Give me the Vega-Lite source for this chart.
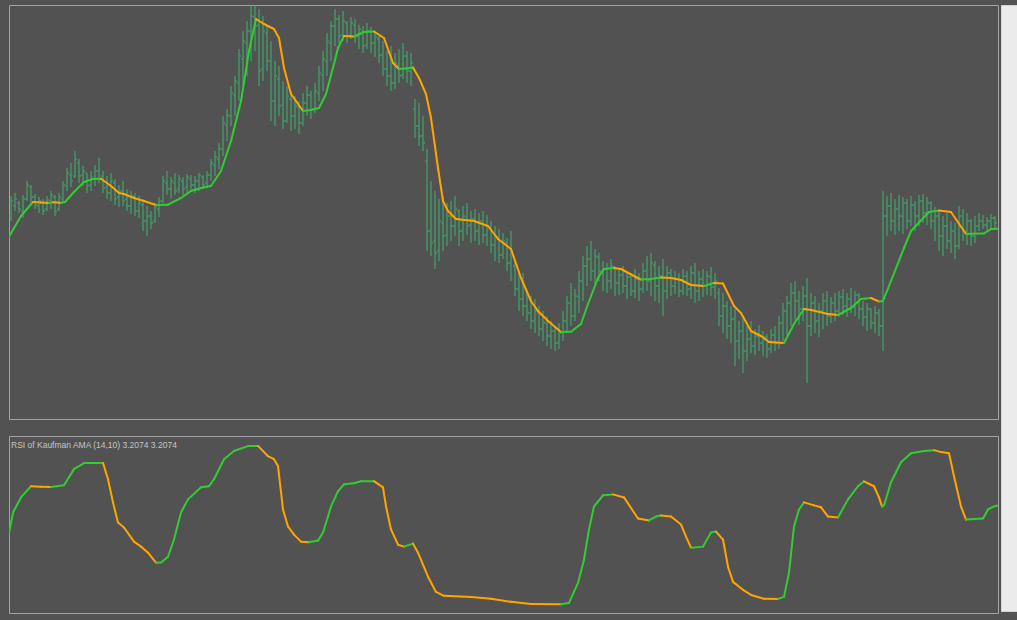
{
  "$schema": "https://vega.github.io/schema/vega-lite/v6.json",
  "background": "#525252",
  "padding": {"left": 8, "top": 4, "right": 0, "bottom": 7},
  "spacing": 1,
  "config": {"view": {"stroke": "#a4a4a4", "strokeWidth": 1}},
  "datasets": {
    "bars": [
      {"t":0.5,"o":205,"h":225,"l":200,"c":220},{"t":1.5,"o":215,"h":228,"l":210,"c":222},{"t":2.5,"o":218,"h":220,"l":208,"c":212},{"t":3.5,"o":210,"h":226,"l":203,"c":222},{"t":4.5,"o":222,"h":240,"l":220,"c":236},
      {"t":5.5,"o":234,"h":236,"l":217,"c":224},{"t":6.5,"o":224,"h":227,"l":212,"c":216},{"t":7.5,"o":215,"h":224,"l":208,"c":220},{"t":8.5,"o":218,"h":222,"l":206,"c":210},{"t":9.5,"o":212,"h":225,"l":210,"c":221},
      {"t":10.5,"o":220,"h":230,"l":212,"c":226},{"t":11.5,"o":224,"h":226,"l":205,"c":210},{"t":12.5,"o":212,"h":228,"l":210,"c":224},{"t":13.5,"o":222,"h":240,"l":218,"c":236},{"t":14.5,"o":235,"h":253,"l":230,"c":248},
      {"t":15.5,"o":246,"h":258,"l":234,"c":240},{"t":16.5,"o":245,"h":270,"l":243,"c":262},{"t":17.5,"o":258,"h":262,"l":238,"c":245},{"t":18.5,"o":246,"h":255,"l":235,"c":250},{"t":19.5,"o":248,"h":248,"l":228,"c":235},
      {"t":20.5,"o":236,"h":250,"l":230,"c":244},{"t":21.5,"o":242,"h":256,"l":235,"c":250},{"t":22.5,"o":250,"h":263,"l":238,"c":242},{"t":23.5,"o":245,"h":250,"l":228,"c":233},{"t":24.5,"o":234,"h":245,"l":222,"c":228},
      {"t":25.5,"o":228,"h":248,"l":220,"c":240},{"t":26.5,"o":238,"h":242,"l":216,"c":222},{"t":27.5,"o":224,"h":236,"l":214,"c":230},{"t":28.5,"o":230,"h":240,"l":215,"c":220},{"t":29.5,"o":222,"h":232,"l":210,"c":215},
      {"t":30.5,"o":215,"h":230,"l":207,"c":225},{"t":31.5,"o":224,"h":228,"l":205,"c":210},{"t":32.5,"o":210,"h":225,"l":203,"c":218},{"t":33.5,"o":216,"h":222,"l":190,"c":200},{"t":34.5,"o":200,"h":215,"l":185,"c":205},
      {"t":35.5,"o":205,"h":210,"l":192,"c":198},{"t":36.5,"o":200,"h":218,"l":198,"c":214},{"t":37.5,"o":212,"h":224,"l":204,"c":220},{"t":38.5,"o":220,"h":245,"l":218,"c":240},{"t":39.5,"o":238,"h":250,"l":226,"c":232},
      {"t":40.5,"o":232,"h":244,"l":222,"c":240},{"t":41.5,"o":238,"h":248,"l":226,"c":230},{"t":42.5,"o":232,"h":246,"l":228,"c":242},{"t":43.5,"o":240,"h":244,"l":226,"c":232},{"t":44.5,"o":234,"h":247,"l":228,"c":244},
      {"t":45.5,"o":242,"h":246,"l":229,"c":236},{"t":46.5,"o":236,"h":245,"l":228,"c":240},{"t":47.5,"o":240,"h":248,"l":230,"c":246},{"t":48.5,"o":244,"h":246,"l":232,"c":236},{"t":49.5,"o":238,"h":250,"l":233,"c":246},
      {"t":50.5,"o":246,"h":262,"l":240,"c":258},{"t":51.5,"o":256,"h":270,"l":245,"c":264},{"t":52.5,"o":262,"h":278,"l":252,"c":272},{"t":53.5,"o":272,"h":305,"l":265,"c":298},{"t":54.5,"o":296,"h":312,"l":280,"c":306},
      {"t":55.5,"o":305,"h":335,"l":295,"c":328},{"t":56.5,"o":326,"h":345,"l":305,"c":340},{"t":57.5,"o":338,"h":372,"l":320,"c":365},{"t":58.5,"o":362,"h":390,"l":335,"c":380},{"t":59.5,"o":378,"h":400,"l":345,"c":390},
      {"t":60.5,"o":390,"h":416,"l":360,"c":405},{"t":61.5,"o":404,"h":418,"l":370,"c":395},{"t":62.5,"o":396,"h":412,"l":335,"c":350},{"t":63.5,"o":352,"h":405,"l":340,"c":390},{"t":64.5,"o":388,"h":395,"l":350,"c":360},
      {"t":65.5,"o":360,"h":380,"l":300,"c":320},{"t":66.5,"o":320,"h":360,"l":295,"c":345},{"t":67.5,"o":342,"h":355,"l":305,"c":315},{"t":68.5,"o":316,"h":340,"l":292,"c":300},{"t":69.5,"o":300,"h":335,"l":298,"c":325},
      {"t":70.5,"o":322,"h":330,"l":290,"c":305},{"t":71.5,"o":305,"h":325,"l":292,"c":315},{"t":72.5,"o":314,"h":320,"l":287,"c":298},{"t":73.5,"o":298,"h":328,"l":295,"c":318},{"t":74.5,"o":318,"h":335,"l":305,"c":326},
      {"t":75.5,"o":326,"h":330,"l":302,"c":312},{"t":76.5,"o":312,"h":338,"l":308,"c":330},{"t":77.5,"o":328,"h":355,"l":320,"c":348},{"t":78.5,"o":346,"h":370,"l":330,"c":362},{"t":79.5,"o":360,"h":388,"l":345,"c":380},
      {"t":80.5,"o":378,"h":400,"l":360,"c":395},{"t":81.5,"o":395,"h":412,"l":375,"c":402},{"t":82.5,"o":402,"h":406,"l":378,"c":385},{"t":83.5,"o":386,"h":410,"l":380,"c":400},{"t":84.5,"o":398,"h":400,"l":378,"c":385},
      {"t":85.5,"o":386,"h":404,"l":382,"c":398},{"t":86.5,"o":396,"h":402,"l":378,"c":384},{"t":87.5,"o":385,"h":396,"l":372,"c":392},{"t":88.5,"o":390,"h":395,"l":368,"c":375},{"t":89.5,"o":376,"h":398,"l":372,"c":390},
      {"t":90.5,"o":390,"h":394,"l":368,"c":378},{"t":91.5,"o":378,"h":390,"l":364,"c":384},{"t":92.5,"o":382,"h":385,"l":358,"c":366},{"t":93.5,"o":366,"h":380,"l":345,"c":352},{"t":94.5,"o":352,"h":370,"l":335,"c":345},
      {"t":95.5,"o":345,"h":375,"l":330,"c":338},{"t":96.5,"o":338,"h":368,"l":332,"c":358},{"t":97.5,"o":356,"h":372,"l":338,"c":345},{"t":98.5,"o":346,"h":378,"l":342,"c":365},{"t":99.5,"o":365,"h":370,"l":338,"c":350},
      {"t":100.5,"o":350,"h":368,"l":335,"c":358},{"t":101.5,"o":312,"h":322,"l":283,"c":295},{"t":102.5,"o":295,"h":318,"l":275,"c":285},{"t":103.5,"o":285,"h":305,"l":270,"c":278},{"t":104.5,"o":260,"h":272,"l":170,"c":190},
      {"t":105.5,"o":190,"h":240,"l":165,"c":178},{"t":106.5,"o":180,"h":230,"l":152,"c":168},{"t":107.5,"o":170,"h":222,"l":160,"c":200},{"t":108.5,"o":198,"h":225,"l":170,"c":185},{"t":109.5,"o":186,"h":218,"l":175,"c":205},
      {"t":110.5,"o":205,"h":220,"l":180,"c":195},{"t":111.5,"o":195,"h":225,"l":185,"c":212},{"t":112.5,"o":210,"h":212,"l":175,"c":190},{"t":113.5,"o":190,"h":215,"l":180,"c":205},{"t":114.5,"o":204,"h":218,"l":186,"c":195},
      {"t":115.5,"o":196,"h":210,"l":178,"c":202},{"t":116.5,"o":202,"h":212,"l":180,"c":190},{"t":117.5,"o":190,"h":208,"l":176,"c":200},{"t":118.5,"o":200,"h":210,"l":178,"c":186},{"t":119.5,"o":186,"h":206,"l":175,"c":195},
      {"t":120.5,"o":194,"h":200,"l":168,"c":176},{"t":121.5,"o":176,"h":195,"l":160,"c":185},{"t":122.5,"o":184,"h":192,"l":158,"c":166},{"t":123.5,"o":166,"h":188,"l":162,"c":180},{"t":124.5,"o":178,"h":183,"l":150,"c":158},
      {"t":125.5,"o":158,"h":190,"l":140,"c":170},{"t":126.5,"o":155,"h":160,"l":125,"c":132},{"t":127.5,"o":132,"h":150,"l":110,"c":122},{"t":128.5,"o":122,"h":148,"l":105,"c":115},{"t":129.5,"o":115,"h":130,"l":100,"c":108},
      {"t":130.5,"o":108,"h":125,"l":92,"c":100},{"t":131.5,"o":100,"h":122,"l":88,"c":110},{"t":132.5,"o":108,"h":115,"l":85,"c":92},{"t":133.5,"o":92,"h":110,"l":80,"c":98},{"t":134.5,"o":98,"h":105,"l":75,"c":85},
      {"t":135.5,"o":85,"h":100,"l":72,"c":90},{"t":136.5,"o":90,"h":95,"l":70,"c":78},{"t":137.5,"o":78,"h":98,"l":72,"c":88},{"t":138.5,"o":88,"h":110,"l":80,"c":100},{"t":139.5,"o":100,"h":125,"l":88,"c":118},
      {"t":140.5,"o":118,"h":138,"l":95,"c":105},{"t":141.5,"o":105,"h":132,"l":100,"c":125},{"t":142.5,"o":124,"h":150,"l":108,"c":140},{"t":143.5,"o":140,"h":165,"l":120,"c":155},{"t":144.5,"o":155,"h":175,"l":135,"c":162},
      {"t":145.5,"o":162,"h":180,"l":140,"c":150},{"t":146.5,"o":150,"h":172,"l":135,"c":165},{"t":147.5,"o":164,"h":168,"l":140,"c":150},{"t":148.5,"o":150,"h":160,"l":130,"c":152},{"t":149.5,"o":152,"h":158,"l":128,"c":140},
      {"t":150.5,"o":140,"h":162,"l":132,"c":155},{"t":151.5,"o":154,"h":155,"l":125,"c":138},{"t":152.5,"o":138,"h":152,"l":126,"c":146},{"t":153.5,"o":146,"h":155,"l":128,"c":135},{"t":154.5,"o":135,"h":150,"l":122,"c":144},
      {"t":155.5,"o":144,"h":148,"l":125,"c":130},{"t":156.5,"o":130,"h":152,"l":123,"c":142},{"t":157.5,"o":142,"h":148,"l":120,"c":132},{"t":158.5,"o":132,"h":158,"l":128,"c":150},{"t":159.5,"o":150,"h":165,"l":130,"c":140},
      {"t":160.5,"o":140,"h":168,"l":125,"c":158},{"t":161.5,"o":156,"h":160,"l":120,"c":135},{"t":162.5,"o":135,"h":155,"l":118,"c":145},{"t":163.5,"o":145,"h":162,"l":105,"c":130},{"t":164.5,"o":130,"h":155,"l":122,"c":148},
      {"t":165.5,"o":148,"h":152,"l":125,"c":135},{"t":166.5,"o":135,"h":150,"l":127,"c":142},{"t":167.5,"o":142,"h":148,"l":124,"c":130},{"t":168.5,"o":130,"h":152,"l":126,"c":145},{"t":169.5,"o":145,"h":150,"l":125,"c":132},
      {"t":170.5,"o":132,"h":155,"l":122,"c":148},{"t":171.5,"o":148,"h":158,"l":118,"c":130},{"t":172.5,"o":130,"h":150,"l":120,"c":142},{"t":173.5,"o":142,"h":152,"l":124,"c":135},{"t":174.5,"o":135,"h":150,"l":126,"c":145},
      {"t":175.5,"o":144,"h":154,"l":125,"c":134},{"t":176.5,"o":134,"h":148,"l":122,"c":140},{"t":177.5,"o":128,"h":133,"l":95,"c":105},{"t":178.5,"o":105,"h":128,"l":88,"c":115},{"t":179.5,"o":115,"h":120,"l":82,"c":95},
      {"t":180.5,"o":95,"h":115,"l":78,"c":102},{"t":181.5,"o":102,"h":112,"l":55,"c":80},{"t":182.5,"o":80,"h":100,"l":62,"c":90},{"t":183.5,"o":90,"h":105,"l":48,"c":70},{"t":184.5,"o":70,"h":95,"l":60,"c":82},
      {"t":185.5,"o":82,"h":100,"l":68,"c":75},{"t":186.5,"o":75,"h":92,"l":66,"c":85},{"t":187.5,"o":85,"h":96,"l":70,"c":78},{"t":188.5,"o":78,"h":90,"l":65,"c":84},{"t":189.5,"o":84,"h":87,"l":63,"c":72},
      {"t":190.5,"o":72,"h":92,"l":68,"c":86},{"t":191.5,"o":86,"h":95,"l":70,"c":78},{"t":192.5,"o":78,"h":105,"l":72,"c":98},{"t":193.5,"o":98,"h":118,"l":80,"c":110},{"t":194.5,"o":110,"h":125,"l":85,"c":118},
      {"t":195.5,"o":118,"h":138,"l":95,"c":128},{"t":196.5,"o":128,"h":140,"l":100,"c":120},{"t":197.5,"o":120,"h":130,"l":96,"c":112},{"t":198.5,"o":112,"h":135,"l":100,"c":125},{"t":199.5,"o":125,"h":143,"l":38,"c":95},
      {"t":200.5,"o":95,"h":128,"l":85,"c":118},{"t":201.5,"o":118,"h":125,"l":88,"c":100},{"t":202.5,"o":100,"h":118,"l":84,"c":110},{"t":203.5,"o":110,"h":128,"l":92,"c":120},{"t":204.5,"o":120,"h":130,"l":95,"c":105},
      {"t":205.5,"o":105,"h":124,"l":98,"c":118},{"t":206.5,"o":118,"h":128,"l":100,"c":110},{"t":207.5,"o":110,"h":130,"l":104,"c":124},{"t":208.5,"o":124,"h":132,"l":106,"c":115},{"t":209.5,"o":115,"h":128,"l":104,"c":122},
      {"t":210.5,"o":122,"h":133,"l":108,"c":114},{"t":211.5,"o":114,"h":130,"l":105,"c":126},{"t":212.5,"o":126,"h":128,"l":102,"c":112},{"t":213.5,"o":112,"h":120,"l":95,"c":104},{"t":214.5,"o":104,"h":118,"l":90,"c":112},
      {"t":215.5,"o":112,"h":113,"l":92,"c":98},{"t":216.5,"o":98,"h":115,"l":88,"c":108},{"t":217.5,"o":108,"h":112,"l":85,"c":95},{"t":218.5,"o":95,"h":230,"l":70,"c":205},{"t":219.5,"o":205,"h":225,"l":185,"c":215},
      {"t":220.5,"o":215,"h":228,"l":190,"c":200},{"t":221.5,"o":200,"h":222,"l":186,"c":212},{"t":222.5,"o":212,"h":226,"l":190,"c":205},{"t":223.5,"o":205,"h":224,"l":187,"c":218},{"t":224.5,"o":218,"h":222,"l":192,"c":200},
      {"t":225.5,"o":200,"h":225,"l":195,"c":216},{"t":226.5,"o":216,"h":220,"l":190,"c":205},{"t":227.5,"o":205,"h":226,"l":195,"c":220},{"t":228.5,"o":220,"h":227,"l":198,"c":208},{"t":229.5,"o":208,"h":224,"l":196,"c":218},
      {"t":230.5,"o":218,"h":220,"l":192,"c":200},{"t":231.5,"o":200,"h":214,"l":180,"c":205},{"t":232.5,"o":205,"h":210,"l":170,"c":185},{"t":233.5,"o":185,"h":205,"l":165,"c":195},{"t":234.5,"o":195,"h":208,"l":172,"c":180},
      {"t":235.5,"o":180,"h":200,"l":168,"c":190},{"t":236.5,"o":190,"h":198,"l":162,"c":175},{"t":237.5,"o":175,"h":215,"l":172,"c":205},{"t":238.5,"o":205,"h":212,"l":180,"c":190},{"t":239.5,"o":190,"h":208,"l":176,"c":200},
      {"t":240.5,"o":200,"h":202,"l":175,"c":185},{"t":241.5,"o":185,"h":205,"l":178,"c":195},{"t":242.5,"o":195,"h":208,"l":190,"c":200},{"t":243.5,"o":200,"h":206,"l":192,"c":196},{"t":244.5,"o":196,"h":204,"l":190,"c":200},
      {"t":245.5,"o":200,"h":207,"l":193,"c":203},{"t":246.5,"o":203,"h":205,"l":192,"c":198}
    ],
    "ama": [
      {"t":0,"a":184},{"t":1.25,"a":193},{"t":3,"a":205},{"t":6,"a":219},{"t":8,"a":218.5},{"t":10,"a":218},{"t":11,"a":218.7},{"t":13,"a":218.2},{"t":14,"a":219},{"t":16.25,"a":229},
      {"t":18.75,"a":239},{"t":21,"a":242},{"t":23,"a":242.3},{"t":25.5,"a":235},{"t":27.5,"a":228},{"t":28.75,"a":227},{"t":31.25,"a":223},{"t":33.75,"a":220},{"t":36.75,"a":216},{"t":39.75,"a":216.3},
      {"t":43,"a":223},{"t":45.5,"a":230},{"t":48,"a":233},{"t":50.5,"a":235},{"t":53,"a":250},{"t":55.5,"a":280},{"t":58,"a":320},{"t":60,"a":370},{"t":61.75,"a":402},{"t":63.75,"a":397},
      {"t":66.25,"a":392},{"t":67.5,"a":383},{"t":68.75,"a":353},{"t":70.5,"a":327},{"t":73.5,"a":310},{"t":75.5,"a":311},{"t":77.5,"a":313},{"t":79.25,"a":327},{"t":81.25,"a":357},{"t":82.25,"a":373},
      {"t":83.75,"a":385},{"t":86.25,"a":384.5},{"t":88.75,"a":389},{"t":91.25,"a":389.5},{"t":93.75,"a":383},{"t":96,"a":358},{"t":97.5,"a":352},{"t":99.25,"a":352.5},{"t":101,"a":353.5},{"t":102.5,"a":343},
      {"t":104.25,"a":327},{"t":105.5,"a":303},{"t":107.25,"a":253},{"t":108.5,"a":220},{"t":109.75,"a":210},{"t":111.75,"a":202},{"t":116.25,"a":200},{"t":119.75,"a":195},{"t":122.25,"a":182},{"t":125.5,"a":172},
      {"t":128,"a":143},{"t":130.5,"a":120},{"t":132.25,"a":110},{"t":134.75,"a":100},{"t":138,"a":89},{"t":140.5,"a":89.3},{"t":143,"a":97},{"t":144.75,"a":117},{"t":147.25,"a":143},{"t":148.75,"a":152},
      {"t":151.25,"a":153},{"t":153,"a":152},{"t":156.25,"a":145},{"t":158,"a":141.5},{"t":160.5,"a":142},{"t":163,"a":143.5},{"t":165.5,"a":143},{"t":168,"a":141},{"t":170.5,"a":136},{"t":173.75,"a":135},
      {"t":176.25,"a":138},{"t":178.5,"a":137.5},{"t":181.25,"a":115},{"t":183,"a":108},{"t":185.5,"a":90},{"t":188,"a":85},{"t":190,"a":79},{"t":193.75,"a":78},{"t":196.25,"a":97},{"t":198.75,"a":112},
      {"t":200.5,"a":111},{"t":204.75,"a":107},{"t":207.25,"a":106},{"t":210.5,"a":113},{"t":213,"a":122},{"t":215.5,"a":123},{"t":217.5,"a":119.5},{"t":218.5,"a":120},{"t":220.5,"a":140},{"t":223.75,"a":173},
      {"t":225.5,"a":190},{"t":230,"a":209},{"t":232.5,"a":210.5},{"t":235.5,"a":209},{"t":239.25,"a":187},{"t":240.5,"a":187.2},{"t":243.75,"a":187.5},{"t":245.5,"a":192},{"t":247.25,"a":192.3}
    ],
    "rsi": [
      {"t":0,"r":45},{"t":1,"r":56.8},{"t":3,"r":65.3},{"t":5.5,"r":71.6},{"t":8,"r":71.3},{"t":10.5,"r":71.2},{"t":12,"r":71.6},{"t":13.75,"r":72.2},{"t":16.25,"r":81.3},{"t":18.75,"r":84.7},
      {"t":23.5,"r":84.8},{"t":24.75,"r":75.6},{"t":26,"r":62.5},{"t":27.25,"r":51.1},{"t":28.75,"r":48.3},{"t":31.25,"r":40.3},{"t":33,"r":37.5},{"t":34.75,"r":34.1},{"t":36.75,"r":28.4},{"t":38,"r":28.5},
      {"t":39.75,"r":31.8},{"t":41.25,"r":41.5},{"t":43,"r":56.8},{"t":44.75,"r":64.2},{"t":48,"r":71},{"t":50,"r":71.6},{"t":51.25,"r":75.6},{"t":53.75,"r":86.9},{"t":56.25,"r":91.5},{"t":59.75,"r":94.3},
      {"t":62.25,"r":94.4},{"t":64.75,"r":88.6},{"t":66.25,"r":86.9},{"t":67.25,"r":83},{"t":68.5,"r":58.5},{"t":69.75,"r":48.9},{"t":71.25,"r":44.3},{"t":73,"r":40.3},{"t":75,"r":40},{"t":77.25,"r":40.9},
      {"t":78.5,"r":45.5},{"t":79.75,"r":54.5},{"t":80.5,"r":60.2},{"t":82.25,"r":68.8},{"t":83.75,"r":72.7},{"t":86.25,"r":73.3},{"t":88,"r":74.4},{"t":91.25,"r":74.5},{"t":93.5,"r":71},{"t":94.25,"r":60.2},
      {"t":95.5,"r":47.2},{"t":97.25,"r":38.6},{"t":98.75,"r":37.5},{"t":101,"r":39.2},{"t":102.25,"r":34.1},{"t":104.75,"r":20.5},{"t":106.75,"r":11.9},{"t":108.75,"r":9.7},{"t":115.5,"r":9.1},{"t":120.5,"r":8},
      {"t":125.5,"r":6.3},{"t":130.5,"r":5.1},{"t":138,"r":5},{"t":140,"r":5.7},{"t":142.25,"r":17},{"t":143.75,"r":30.1},{"t":145,"r":47.2},{"t":146.25,"r":60.2},{"t":148.5,"r":66.5},{"t":151,"r":67},
      {"t":153.75,"r":65.3},{"t":157.25,"r":53.4},{"t":160,"r":52.3},{"t":161.75,"r":54.5},{"t":163,"r":55.1},{"t":165.5,"r":54.5},{"t":168,"r":50},{"t":169.25,"r":43.2},{"t":170.5,"r":36.9},{"t":173.5,"r":37.5},
      {"t":175.5,"r":45.5},{"t":176.75,"r":46},{"t":178.5,"r":41.5},{"t":179.75,"r":26.1},{"t":181,"r":17.6},{"t":183.5,"r":13.1},{"t":185.5,"r":10.2},{"t":188.75,"r":8},{"t":192.25,"r":7.9},{"t":193.75,"r":9.1},
      {"t":195,"r":22.7},{"t":196.25,"r":48.9},{"t":197.5,"r":58.5},{"t":198.75,"r":62.5},{"t":201.25,"r":60.8},{"t":203,"r":59.7},{"t":204.75,"r":54.5},{"t":207.25,"r":54},{"t":209.75,"r":64.2},{"t":212.25,"r":71.6},
      {"t":213.75,"r":74.4},{"t":216.25,"r":71.6},{"t":217.5,"r":65.3},{"t":218.25,"r":60.2},{"t":218.75,"r":60.8},{"t":220.5,"r":73.9},{"t":223,"r":85.2},{"t":225.5,"r":90.3},{"t":228.75,"r":91.5},{"t":231.25,"r":92},
      {"t":233,"r":90.9},{"t":235,"r":90.3},{"t":236.25,"r":77.3},{"t":238,"r":60.2},{"t":239.25,"r":52.8},{"t":243.5,"r":53.4},{"t":244.75,"r":58.5},{"t":246.25,"r":60.2},{"t":247.25,"r":60.8}
    ],
    "label": [
      {"text": "RSI of Kaufman AMA (14,10) 3.2074 3.2074"}
    ]
  },
  "hconcat": [
    {
      "spacing": 15,
      "vconcat": [
        {
          "width": 989,
          "height": 414,
          "layer": [
            {
              "data": {"name": "bars"},
              "mark": {"type": "rule", "stroke": "#3cb371", "strokeWidth": 1, "clip": true},
              "encoding": {
                "x": {"field": "t", "type": "quantitative", "scale": {"domain": [0, 247.25], "nice": false, "zero": false}, "axis": null},
                "y": {"field": "l", "type": "quantitative", "scale": {"domain": [2, 416], "nice": false, "zero": false}, "axis": null},
                "y2": {"field": "h"}
              }
            },
            {
              "data": {"name": "bars"},
              "mark": {"type": "tick", "orient": "horizontal", "fill": "#3cb371", "opacity": 1, "thickness": 1, "size": 1.5, "xOffset": -1.25, "clip": true},
              "encoding": {
                "x": {"field": "t", "type": "quantitative"},
                "y": {"field": "o", "type": "quantitative"}
              }
            },
            {
              "data": {"name": "bars"},
              "mark": {"type": "tick", "orient": "horizontal", "fill": "#3cb371", "opacity": 1, "thickness": 1, "size": 1.5, "xOffset": 1.25, "clip": true},
              "encoding": {
                "x": {"field": "t", "type": "quantitative"},
                "y": {"field": "c", "type": "quantitative"}
              }
            },
            {
              "data": {"name": "ama"},
              "transform": [
                {"window": [{"op": "lead", "field": "t", "as": "t2"}, {"op": "lead", "field": "a", "as": "a2"}], "sort": [{"field": "t", "order": "ascending"}]},
                {"filter": "isValid(datum.t2)"}
              ],
              "mark": {"type": "rule", "strokeWidth": 2, "strokeCap": "round", "clip": true},
              "encoding": {
                "x": {"field": "t", "type": "quantitative"},
                "y": {"field": "a", "type": "quantitative"},
                "x2": {"field": "t2"},
                "y2": {"field": "a2"},
                "color": {"condition": {"test": "datum.a2 >= datum.a", "value": "#32cd32"}, "value": "#ffa500"}
              }
            }
          ]
        },
        {
          "width": 989,
          "height": 177,
          "layer": [
            {
              "data": {"name": "rsi"},
              "transform": [
                {"window": [{"op": "lead", "field": "t", "as": "t2"}, {"op": "lead", "field": "r", "as": "r2"}], "sort": [{"field": "t", "order": "ascending"}]},
                {"filter": "isValid(datum.t2)"}
              ],
              "mark": {"type": "rule", "strokeWidth": 2, "strokeCap": "round", "clip": true},
              "encoding": {
                "x": {"field": "t", "type": "quantitative", "scale": {"domain": [0, 247.25], "nice": false, "zero": false}, "axis": null},
                "y": {"field": "r", "type": "quantitative", "scale": {"domain": [0, 100], "nice": false, "zero": false}, "axis": null},
                "x2": {"field": "t2"},
                "y2": {"field": "r2"},
                "color": {"condition": {"test": "datum.r2 >= datum.r", "value": "#32cd32"}, "value": "#ffa500"}
              }
            },
            {
              "data": {"name": "label"},
              "mark": {"type": "text", "align": "left", "baseline": "top", "dx": 2, "dy": 5, "fontSize": 8.5, "font": "Liberation Sans", "color": "#c4c4c4"},
              "encoding": {
                "x": {"datum": 0, "type": "quantitative"},
                "y": {"datum": 100, "type": "quantitative"},
                "text": {"field": "text"}
              }
            }
          ]
        }
      ]
    },
    {
      "width": 19,
      "height": 606,
      "view": {"fill": "#ebebeb", "stroke": "#d4d4d4"},
      "data": {"values": [{"n": 1}]},
      "mark": {"type": "text", "text": ""},
      "encoding": {}
    }
  ]
}
